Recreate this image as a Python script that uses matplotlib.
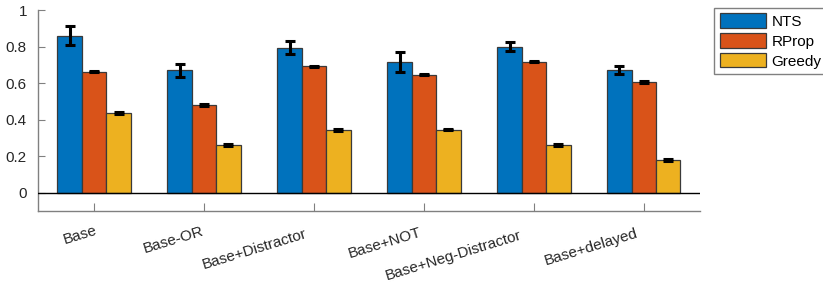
import numpy as np
import matplotlib
matplotlib.use('Agg')
import matplotlib.pyplot as plt
from matplotlib.transforms import ScaledTranslation

plt.rcParams['font.family'] = ['Liberation Sans', 'DejaVu Sans']

# data
categories = ['Base', 'Base-OR', 'Base+Distractor', 'Base+NOT',
              'Base+Neg-Distractor', 'Base+delayed']
series = ['NTS', 'RProp', 'Greedy']
nts = [0.860, 0.669, 0.794, 0.713, 0.800, 0.671]
nts_err = [0.050, 0.035, 0.034, 0.055, 0.025, 0.021]
rprop = [0.663, 0.480, 0.691, 0.647, 0.718, 0.607]
rprop_err = [0.004, 0.004, 0.004, 0.004, 0.004, 0.004]
greedy = [0.436, 0.260, 0.342, 0.345, 0.262, 0.180]
greedy_err = [0.004, 0.004, 0.004, 0.004, 0.004, 0.004]
yticks = [0, 0.2, 0.4, 0.6, 0.8, 1]

colors = ['#0072BD', '#D95319', '#EDB120']

fig = plt.figure(figsize=(8.23, 2.91), dpi=100)
ax = fig.add_axes([0.0462, 0.275, 0.8043, 0.6906])

x = np.arange(1, len(categories) + 1)
width = 0.222
values = [nts, rprop, greedy]
errors = [nts_err, rprop_err, greedy_err]

for i, (vals, errs) in enumerate(zip(values, errors)):
    pos = x + (i - 1) * width
    ax.bar(pos, vals, width, color=colors[i], edgecolor='#3a3a3a',
           linewidth=0.9, label=series[i], zorder=2)
    ax.errorbar(pos, vals, yerr=errs, fmt='none', ecolor='black',
                elinewidth=2.2, capsize=3.8, capthick=2.2, zorder=3)

# baseline at zero
ax.axhline(0, color='black', linewidth=1, zorder=4)

ax.set_xlim(0.49, 6.51)
ax.set_ylim(-0.1, 1)
ax.set_yticks(yticks)
ax.set_yticklabels(['0', '0.2', '0.4', '0.6', '0.8', '1'])
ax.set_xticks(x)
rot = 17
ax.set_xticklabels(categories, rotation=rot, ha='right', va='top',
                   rotation_mode='anchor', fontsize=11, color='#262626')

for side in ['top', 'right']:
    ax.spines[side].set_visible(False)
for side in ['left', 'bottom']:
    ax.spines[side].set_color('#808080')
    ax.spines[side].set_linewidth(1)

ax.tick_params(axis='y', direction='in', length=5, color='#808080',
               labelsize=11, labelcolor='#262626', pad=8)
ax.tick_params(axis='x', direction='in', length=6, color='#808080',
               pad=9)

leg = ax.legend(loc='upper left', bbox_to_anchor=(0.868, 0.972),
                bbox_transform=fig.transFigure, fontsize=11,
                handlelength=3.0, handleheight=1.05, handletextpad=0.4,
                labelspacing=0.3, borderpad=0.35, borderaxespad=0,
                fancybox=False, framealpha=1, edgecolor='#808080')
leg.get_frame().set_linewidth(1)

# longer labels sit a little further down-left along their own slant
fig.canvas.draw()
th = np.radians(rot)
for lab in ax.get_xticklabels():
    length = lab.get_window_extent().width / np.cos(th)
    s = 0.15 * (length - 45)
    lab.set_transform(lab.get_transform() + ScaledTranslation(
        -s * np.cos(th) / fig.dpi, -s * np.sin(th) / fig.dpi,
        fig.dpi_scale_trans))

fig.savefig('out.png', dpi=100)
